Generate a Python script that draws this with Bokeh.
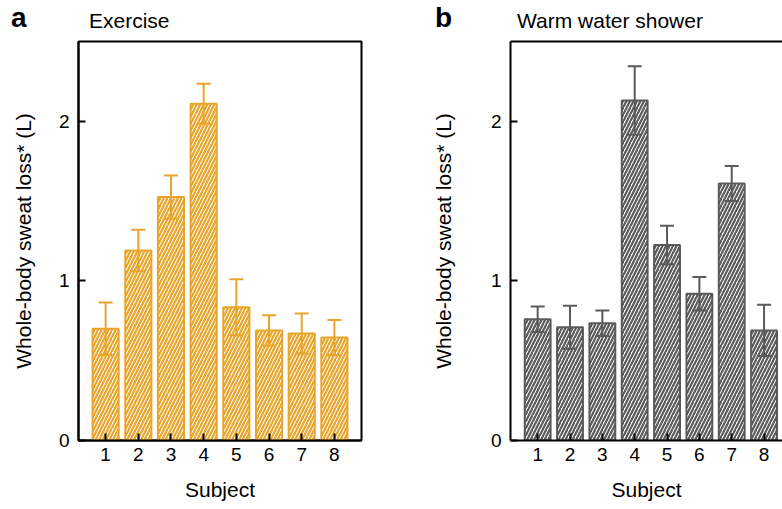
from bokeh.plotting import figure
from bokeh.layouts import row, column
from bokeh.models import (ColumnDataSource, Range1d, FixedTicker, LinearAxis,
                          Whisker, TeeHead, Label)
from bokeh.embed import file_html
from bokeh.resources import INLINE

# ---- data ----
subjects = [1, 2, 3, 4, 5, 6, 7, 8]
exercise_mean = [0.70, 1.19, 1.525, 2.11, 0.835, 0.69, 0.67, 0.645]
exercise_err = [0.165, 0.13, 0.135, 0.125, 0.175, 0.095, 0.125, 0.11]
shower_mean = [0.76, 0.71, 0.735, 2.13, 1.225, 0.92, 1.61, 0.69]
shower_err = [0.08, 0.135, 0.08, 0.215, 0.12, 0.105, 0.11, 0.16]
y_ticks = [0, 1, 2]
panel_letters = ["a", "b"]
panel_titles = ["Exercise", "Warm water shower"]
y_label = "Whole-body sweat loss* (L)"
x_label = "Subject"

FONT = "Liberation Sans"
ORANGE = "#E8A52B"
GREY = "#5A5A5A"
HEADER_H = 37
TOP = 4


def make_panel(means, errs, color, width, x_range, border_l, border_r,
               y_standoff, full_outline):
    p = figure(width=width, height=508 - HEADER_H, output_backend="svg",
               toolbar_location=None, x_range=Range1d(*x_range),
               y_range=Range1d(0, 2.5), min_border_left=border_l,
               min_border_right=border_r, min_border_top=TOP,
               min_border_bottom=68, background_fill_color="white",
               border_fill_color="white", title=None)
    p.grid.visible = False
    if full_outline:
        p.outline_line_color = "black"
        p.outline_line_width = 2
    else:
        p.outline_line_color = None
        top = LinearAxis(ticker=FixedTicker(ticks=[]),
                         major_label_text_font_size="0px",
                         major_label_standoff=0,
                         axis_line_width=2, axis_line_color="black",
                         major_tick_line_color=None, minor_tick_line_color=None,
                         major_tick_in=0, major_tick_out=0)
        p.add_layout(top, "above")

    src = ColumnDataSource(dict(x=subjects, top=means,
                                upper=[m + e for m, e in zip(means, errs)],
                                lower=[m - e for m, e in zip(means, errs)]))
    p.vbar(x="x", top="top", width=0.8, source=src, fill_color="white",
           line_color=color, line_width=2, hatch_pattern="/",
           hatch_color=color, hatch_scale=7, hatch_weight=2.2)
    w = Whisker(base="x", upper="upper", lower="lower", source=src,
                line_color=color, line_width=2, level="overlay",
                upper_head=TeeHead(size=14, line_color=color, line_width=2),
                lower_head=TeeHead(size=14, line_color=color, line_width=2))
    p.add_layout(w)

    xax = p.below[0]
    yax = p.left[0]
    for ax in (xax, yax):
        ax.axis_line_width = 2
        ax.axis_line_color = "black"
        ax.major_tick_in = 7
        ax.major_tick_out = 0
        ax.major_tick_line_width = 2
        ax.major_tick_line_color = "black"
        ax.minor_tick_line_color = None
        ax.major_label_text_font = FONT
        ax.major_label_text_font_size = "19px"
        ax.major_label_text_color = "black"
        ax.axis_label_text_font = FONT
        ax.axis_label_text_font_size = "21px"
        ax.axis_label_text_font_style = "normal"
        ax.axis_label_text_color = "black"
    xax.ticker = FixedTicker(ticks=subjects)
    yax.ticker = FixedTicker(ticks=y_ticks)
    xax.axis_label = x_label
    yax.axis_label = y_label
    xax.major_label_standoff = 7
    xax.axis_label_standoff = 14
    yax.major_label_standoff = 9
    yax.axis_label_standoff = y_standoff
    return p


# header strip holding the panel letters and titles (pixel coordinates)
hdr = figure(width=782, height=HEADER_H, output_backend="svg",
             toolbar_location=None, x_range=Range1d(0, 782),
             y_range=Range1d(HEADER_H, 0), x_axis_location=None,
             y_axis_location=None, min_border=0, title=None,
             background_fill_color="white", border_fill_color="white")
hdr.grid.visible = False
hdr.outline_line_color = None
for lx, tx, letter, title in zip([10.5, 434.5], [88.5, 516.5],
                                 panel_letters, panel_titles):
    hdr.add_layout(Label(x=lx, y=16.5, text=letter, text_font=FONT,
                         text_font_size="28px", text_font_style="bold",
                         text_color="black", text_baseline="middle"))
    hdr.add_layout(Label(x=tx, y=20, text=title, text_font=FONT,
                         text_font_size="21px", text_color="black",
                         text_baseline="middle"))

pa = make_panel(exercise_mean, exercise_err, ORANGE, 428, (0.17, 8.83),
                78, 67, 21, True)
pb = make_panel(shower_mean, shower_err, GREY, 354, (0.16, 8.57),
                78, 0, 33, False)

layout = column(hdr, row(pa, pb))
open("out.html", "w").write(file_html(layout, INLINE))
